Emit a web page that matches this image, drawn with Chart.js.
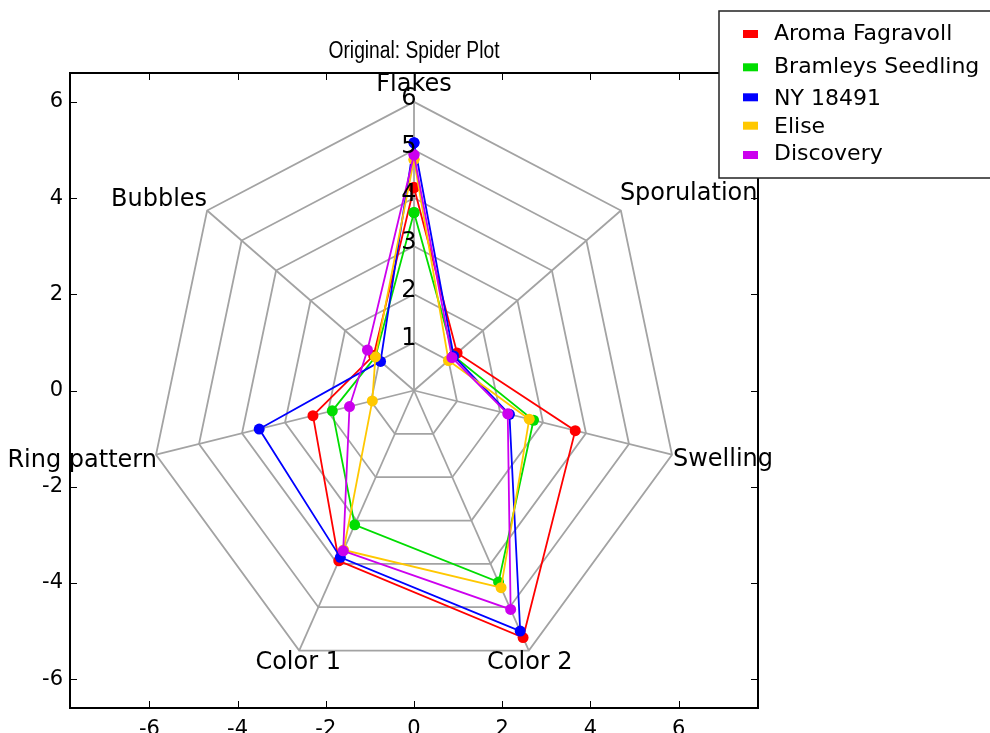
<!DOCTYPE html>
<html>
<head>
<meta charset="utf-8">
<title>Spider Plot</title>
<script src="https://cdn.jsdelivr.net/npm/chart.js@4.4.0/dist/chart.umd.min.js"></script>
<style>
  body { margin: 0; background: #fff; }
</style>
</head>
<body>
<canvas id="myChart" width="990" height="733"></canvas>
<script>
// spokes of the spider, clockwise starting from the top
const axisNames = ['Flakes', 'Sporulation', 'Swelling', 'Color 2', 'Color 1', 'Ring pattern', 'Bubbles'];

const cultivars = ['Aroma Fagravoll', 'Bramleys Seedling', 'NY 18491', 'Elise', 'Discovery'];
const aromaFagravoll   = [4.22, 1.25, 3.75, 5.70, 3.93, 2.35, 1.17];
const bramleysSeedling = [3.70, 1.15, 2.78, 4.42, 3.10, 1.90, 1.12];
const ny18491          = [5.15, 1.15, 2.22, 5.55, 3.85, 3.60, 0.97];
const elise            = [4.80, 1.00, 2.68, 4.55, 3.68, 0.97, 1.12];
const discovery        = [4.90, 1.10, 2.18, 5.05, 3.70, 1.50, 1.35];

const ringLevels = [1, 2, 3, 4, 5, 6];
const xTicks = [-6, -4, -2, 0, 2, 4, 6];
const yTicks = [-6, -4, -2, 0, 2, 4, 6];

const seriesValues = [aromaFagravoll, bramleysSeedling, ny18491, elise, discovery];
const seriesColors = ['#ff0000', '#00dd00', '#0000ff', '#ffc800', '#cc00ee'];
const gridColor = '#a3a3a3';

// where each spoke label sits relative to its outer vertex
const labelPos = [
    { align: 'center', dx: 0, dy: -11 },
    { align: 'left', dx: -1, dy: -11 },
    { align: 'left', dx: 1, dy: 11 },
    { align: 'center', dx: 1, dy: 18 },
    { align: 'center', dx: -1, dy: 18 },
    { align: 'right', dx: 1, dy: 12 },
    { align: 'right', dx: 0, dy: -5 }
];

let toXY = (r, k) => {
    let a = k * 2 * Math.PI / axisNames.length;
    return { x: r * Math.sin(a), y: r * Math.cos(a) };
}

let polygon = (values) => {
    let pts = values.map((r, k) => toXY(r, k));
    pts.push(pts[0]);
    return pts;
}

let datasets = [];

// grid rings
ringLevels.forEach(level => {
    datasets.push({
        data: polygon(axisNames.map(() => level)),
        borderColor: gridColor,
        borderWidth: 1.8,
        pointRadius: 0,
        showLine: true,
        order: 100
    });
});

// spokes
axisNames.forEach((name, k) => {
    datasets.push({
        data: [toXY(0, k), toXY(ringLevels[ringLevels.length - 1], k)],
        borderColor: gridColor,
        borderWidth: 1.8,
        pointRadius: 0,
        showLine: true,
        order: 100
    });
});

// cultivars, later ones drawn on top
seriesValues.forEach((values, i) => {
    datasets.push({
        label: cultivars[i],
        data: polygon(values),
        borderColor: seriesColors[i],
        backgroundColor: seriesColors[i],
        pointBackgroundColor: seriesColors[i],
        pointBorderWidth: 0,
        pointRadius: 5.5,
        borderWidth: 1.8,
        showLine: true,
        order: 10 - i
    });
});

const spiderText = {
    id: 'spiderText',
    afterDatasetsDraw(chart) {
        const { ctx, chartArea } = chart;
        const x = chart.scales.x, y = chart.scales.y;
        ctx.save();
        ctx.fillStyle = '#000';
        ctx.font = '24px "DejaVu Sans"';
        ctx.textBaseline = 'alphabetic';

        // ring numbers along the top spoke
        ctx.textAlign = 'center';
        ringLevels.forEach(r => {
            ctx.fillText(String(r), x.getPixelForValue(0) - 5, y.getPixelForValue(r) + 3);
        });

        // spoke names
        axisNames.forEach((name, k) => {
            let p = toXY(ringLevels[ringLevels.length - 1], k);
            let pos = labelPos[k];
            ctx.textAlign = pos.align;
            ctx.fillText(name, x.getPixelForValue(p.x) + pos.dx, y.getPixelForValue(p.y) + pos.dy);
        });

        // frame with inward ticks on all four sides
        ctx.strokeStyle = '#000';
        ctx.lineWidth = 1;
        ctx.beginPath();
        xTicks.forEach(v => {
            let px = Math.round(x.getPixelForValue(v)) + 0.5;
            ctx.moveTo(px, chartArea.bottom); ctx.lineTo(px, chartArea.bottom - 7);
            ctx.moveTo(px, chartArea.top); ctx.lineTo(px, chartArea.top + 7);
        });
        yTicks.forEach(v => {
            let py = Math.round(y.getPixelForValue(v)) + 0.5;
            ctx.moveTo(chartArea.left, py); ctx.lineTo(chartArea.left + 7, py);
            ctx.moveTo(chartArea.right, py); ctx.lineTo(chartArea.right - 7, py);
        });
        ctx.stroke();
        ctx.lineWidth = 2;
        ctx.strokeRect(chartArea.left, chartArea.top, chartArea.right - chartArea.left, chartArea.bottom - chartArea.top);
        ctx.restore();
    },
    afterDraw(chart) {
        const { ctx, chartArea } = chart;
        ctx.save();
        // title, in a condensed face like the original
        ctx.fillStyle = '#000';
        ctx.font = '23px "Liberation Sans", Arial, sans-serif';
        ctx.textAlign = 'center';
        ctx.textBaseline = 'alphabetic';
        let title = 'Original: Spider Plot';
        let squeeze = 171 / ctx.measureText(title).width;
        ctx.translate((chartArea.left + chartArea.right) / 2, 58);
        ctx.scale(squeeze, 1);
        ctx.fillText(title, 0, 0);
        ctx.setTransform(1, 0, 0, 1, 0, 0);

        // legend box, top right, sticking out of the figure
        ctx.fillStyle = '#fff';
        ctx.fillRect(719, 11, 300, 167);
        ctx.strokeStyle = '#222';
        ctx.lineWidth = 1.5;
        ctx.strokeRect(719, 11, 300, 167);
        const rowBase = [40, 72.7, 105, 133.3, 160];
        const swatchTop = [30, 63.3, 93.3, 121.7, 151];
        ctx.font = '22px "DejaVu Sans"';
        ctx.textAlign = 'left';
        cultivars.forEach((name, i) => {
            ctx.fillStyle = seriesColors[i];
            ctx.fillRect(743, swatchTop[i], 15, 8);
            ctx.fillStyle = '#000';
            ctx.fillText(name, 774, rowBase[i]);
        });
        ctx.restore();
    }
};

const tickFont = { family: 'DejaVu Sans', size: 21 };

const config = {
    type: 'scatter',
    data: { datasets: datasets },
    options: {
        responsive: false,
        animation: false,
        events: [],
        layout: { padding: { left: 0, top: 73, right: 232, bottom: 0 } },
        plugins: {
            legend: { display: false },
            tooltip: { enabled: false },
            title: { display: false }
        },
        scales: {
            x: {
                type: 'linear',
                min: -7.8,
                max: 7.8,
                grid: { display: false, drawTicks: false },
                border: { display: false },
                ticks: { color: '#000', font: tickFont, padding: 9, maxRotation: 0 },
                afterBuildTicks: (axis) => { axis.ticks = xTicks.map(v => ({ value: v })); },
                afterFit: (axis) => { axis.height = 25; }
            },
            y: {
                type: 'linear',
                min: -6.6,
                max: 6.6,
                grid: { display: false, drawTicks: false },
                border: { display: false },
                ticks: { color: '#000', font: tickFont, padding: 7 },
                afterBuildTicks: (axis) => { axis.ticks = yTicks.map(v => ({ value: v })); },
                afterFit: (axis) => { axis.width = 70; }
            }
        }
    },
    plugins: [spiderText]
};

const chart = new Chart(document.getElementById('myChart'), config);
</script>
</body>
</html>
